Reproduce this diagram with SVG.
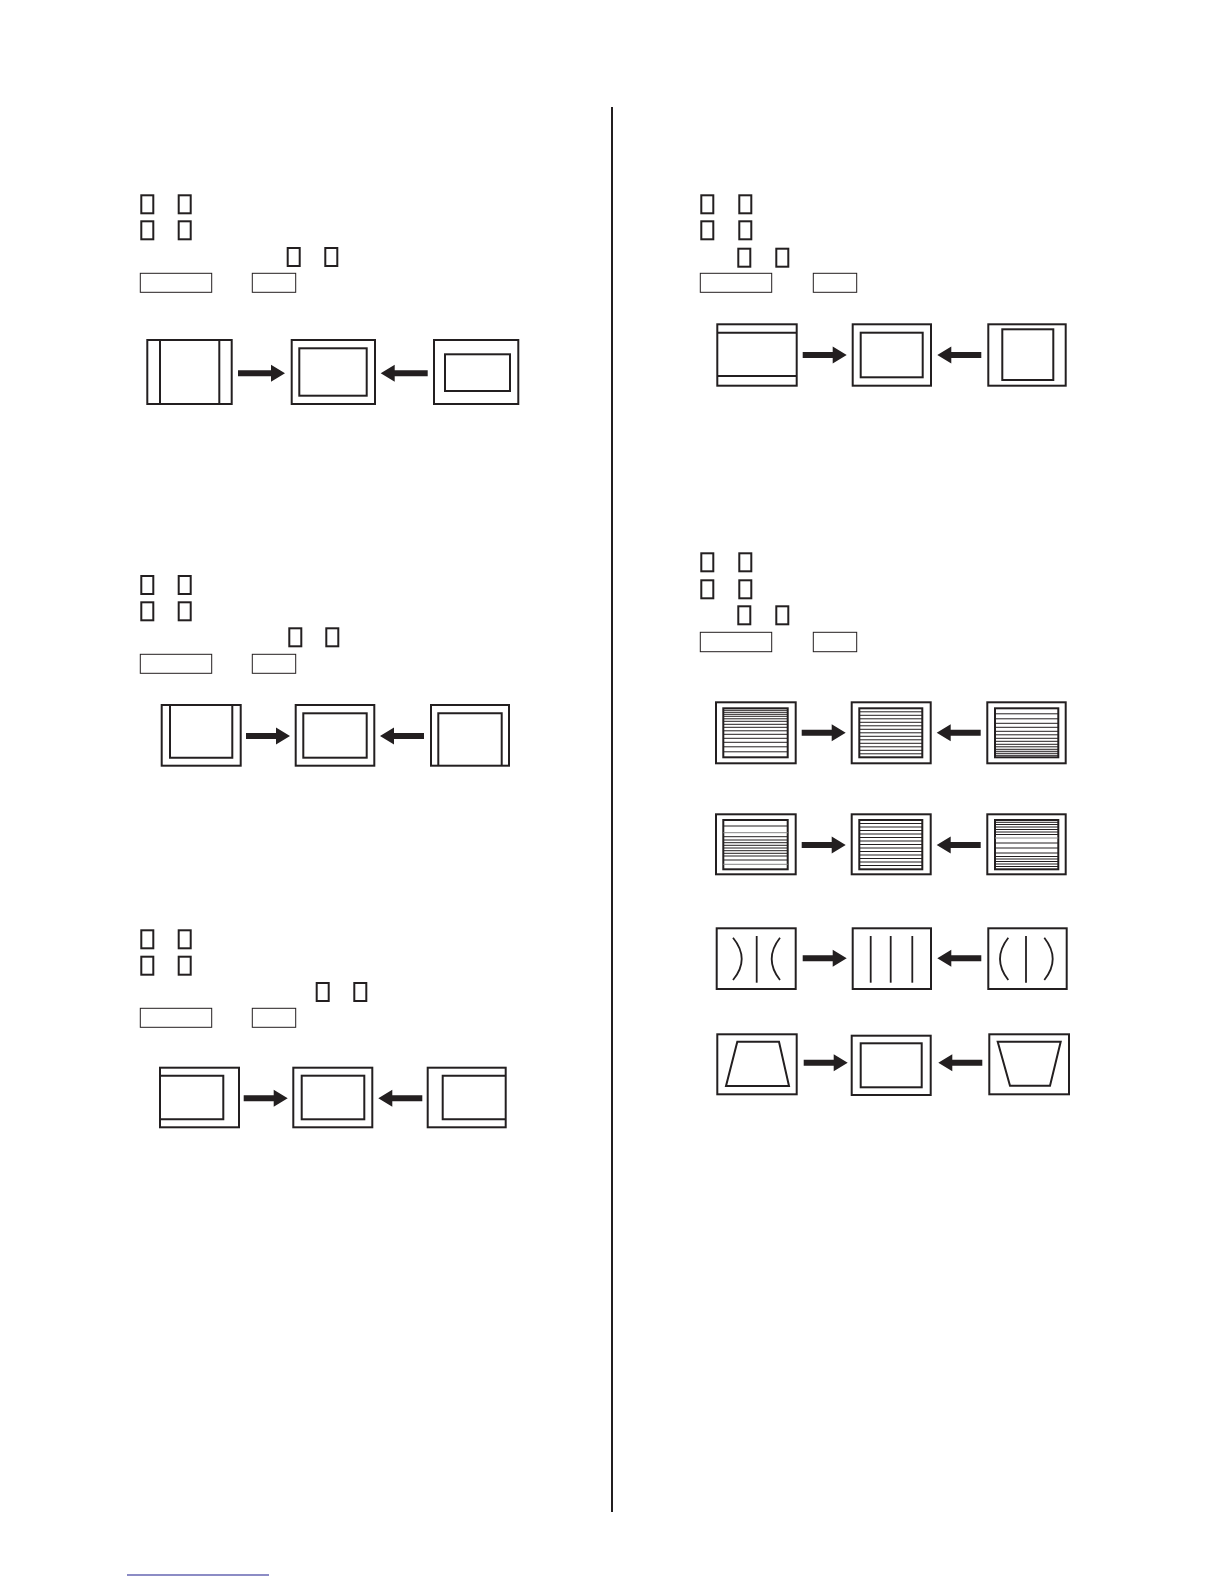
<svg xmlns="http://www.w3.org/2000/svg" xmlns:xlink="http://www.w3.org/1999/xlink" width="1224" height="1584" viewBox="0 0 1224 1584">
<style>
.bx{fill:#fff;stroke:#231f20;stroke-width:2}
.in{fill:none;stroke:#231f20;stroke-width:2}
.ln{fill:none;stroke:#231f20;stroke-width:1}
.lg{fill:none;stroke:#888;stroke-width:1}
.tf{fill:none;stroke:#231f20;stroke-width:2}
.lb{fill:none;stroke:#231f20;stroke-width:1}
.ar{fill:#231f20}
.cv{fill:none;stroke:#231f20;stroke-width:1.8}
</style>
<defs>
<path id="a44" d="M-44,-3 L-14,-3 L-14,-8.5 L0,0 L-14,8.5 L-14,3 L-44,3 Z"/>
<path id="a47" d="M-47,-3 L-14,-3 L-14,-8.5 L0,0 L-14,8.5 L-14,3 L-47,3 Z"/>
</defs>
<rect width="1224" height="1584" fill="#fff"/>
<line x1="612" y1="107" x2="612" y2="1512" stroke="#231f20" stroke-width="2"/>
<line x1="127" y1="1575" x2="269" y2="1575" stroke="#1a1a8c" stroke-width="1.2"/>

<g id="labels-s1">
<rect class="tf" x="141.3" y="195.3" width="12" height="18"/><rect class="tf" x="178.7" y="195.3" width="12" height="18"/>
<rect class="tf" x="141.3" y="221.3" width="12" height="18"/><rect class="tf" x="178.7" y="221.3" width="12" height="18"/>
<rect class="tf" x="287.7" y="248" width="12" height="18"/><rect class="tf" x="325.3" y="248" width="12" height="18"/>
<rect class="lb" x="140.3" y="273.3" width="71.4" height="19"/><rect class="lb" x="252.3" y="273.3" width="43.4" height="19"/>
</g>
<g id="labels-s2">
<rect class="tf" x="141.3" y="576" width="12" height="18"/><rect class="tf" x="178.7" y="576" width="12" height="18"/>
<rect class="tf" x="141.3" y="602.3" width="12" height="18"/><rect class="tf" x="178.7" y="602.3" width="12" height="18"/>
<rect class="tf" x="289.3" y="628.3" width="12" height="18"/><rect class="tf" x="326.3" y="628.3" width="12" height="18"/>
<rect class="lb" x="140.3" y="654.3" width="71.4" height="19"/><rect class="lb" x="252.3" y="654.3" width="43.4" height="19"/>
</g>
<g id="labels-s3">
<rect class="tf" x="141.3" y="930.3" width="12" height="18"/><rect class="tf" x="178.7" y="930.3" width="12" height="18"/>
<rect class="tf" x="141.3" y="956.7" width="12" height="18"/><rect class="tf" x="178.7" y="956.7" width="12" height="18"/>
<rect class="tf" x="316.7" y="983" width="12" height="18"/><rect class="tf" x="354.3" y="983" width="12" height="18"/>
<rect class="lb" x="140.3" y="1008.3" width="71.4" height="19"/><rect class="lb" x="252.3" y="1008.3" width="43.4" height="19"/>
</g>
<g id="labels-s4">
<rect class="tf" x="701.3" y="195.3" width="12" height="18"/><rect class="tf" x="739.3" y="195.3" width="12" height="18"/>
<rect class="tf" x="701.3" y="221.3" width="12" height="18"/><rect class="tf" x="739.3" y="221.3" width="12" height="18"/>
<rect class="tf" x="738.3" y="248.7" width="12" height="18"/><rect class="tf" x="776.3" y="248.7" width="12" height="18"/>
<rect class="lb" x="700.3" y="273.3" width="71.4" height="19"/><rect class="lb" x="813.3" y="273.3" width="43.4" height="19"/>
</g>
<g id="labels-s5">
<rect class="tf" x="701.3" y="553.3" width="12" height="18"/><rect class="tf" x="739.3" y="553.3" width="12" height="18"/>
<rect class="tf" x="701.3" y="580.3" width="12" height="18"/><rect class="tf" x="739.3" y="580.3" width="12" height="18"/>
<rect class="tf" x="738.3" y="606.3" width="12" height="18"/><rect class="tf" x="776.3" y="606.3" width="12" height="18"/>
<rect class="lb" x="700.3" y="632.3" width="71.4" height="19.4"/><rect class="lb" x="813.3" y="632.3" width="43.4" height="19.4"/>
</g>

<!-- Section 1 -->
<g id="s1-a"><rect class="bx" x="147.3" y="340" width="84.4" height="64"/><line class="in" x1="160" y1="340" x2="160" y2="404"/><line class="in" x1="219.3" y1="340" x2="219.3" y2="404"/></g>
<g id="s1-b"><rect class="bx" x="291.7" y="340" width="83.3" height="64"/><rect class="in" x="299.3" y="348.3" width="67.4" height="47.4"/></g>
<g id="s1-c"><rect class="bx" x="434" y="340" width="84.3" height="64"/><rect class="in" x="445" y="354.3" width="65" height="36.7"/></g>

<!-- Section 2 -->
<g id="s2-a"><rect class="bx" x="161.7" y="705" width="79" height="60.7"/><polyline class="in" points="170,705 170,757.7 232.3,757.7 232.3,705"/></g>
<g id="s2-b"><rect class="bx" x="295.7" y="705" width="78.6" height="60.7"/><rect class="in" x="303.3" y="713.3" width="63.4" height="44.4"/></g>
<g id="s2-c"><rect class="bx" x="431" y="705" width="78" height="60.7"/><polyline class="in" points="438.3,765.7 438.3,713.3 501.7,713.3 501.7,765.7"/></g>

<!-- Section 3 -->
<g id="s3-a"><rect class="bx" x="160" y="1067.7" width="79" height="59.6"/><polyline class="in" points="160,1075.7 223.3,1075.7 223.3,1119.3 160,1119.3"/></g>
<g id="s3-b"><rect class="bx" x="293.3" y="1067.7" width="79" height="59.6"/><rect class="in" x="301.7" y="1075.7" width="62.6" height="43.6"/></g>
<g id="s3-c"><rect class="bx" x="427.7" y="1067.7" width="78" height="59.6"/><polyline class="in" points="505.7,1075.7 442.7,1075.7 442.7,1119.3 505.7,1119.3"/></g>

<!-- Section 4 -->
<g id="s4-a"><rect class="bx" x="717.3" y="324.3" width="79.4" height="61.4"/><line class="in" x1="717.3" y1="332.7" x2="796.7" y2="332.7"/><line class="in" x1="717.3" y1="376" x2="796.7" y2="376"/></g>
<g id="s4-b"><rect class="bx" x="852.7" y="324.3" width="78.3" height="61.4"/><rect class="in" x="860.7" y="332.7" width="62" height="44.6"/></g>
<g id="s4-c"><rect class="bx" x="988.3" y="324.3" width="77.4" height="61.4" stroke-width="1.5"/><rect class="in" x="1002.3" y="329.3" width="51" height="50.7"/></g>

<!-- Section 5 row 1 -->
<g id="s5r1-a"><rect class="bx" x="716" y="702.3" width="79.7" height="61"/><rect class="in" x="723.3" y="708.3" width="64.4" height="49"/>
<path class="ln" d="M723.3,710.3H787.7M723.3,712.3H787.7M723.3,714.3H787.7M723.3,716.3H787.7M723.3,718.8H787.7M723.3,721.3H787.7M723.3,724.3H787.7M723.3,727.3H787.7M723.3,730.8H787.7M723.3,734.3H787.7M723.3,738.3H787.7M723.3,742.3H787.7M723.3,746.8H787.7M723.3,751.8H787.7"/></g>
<g id="s5r1-b"><rect class="bx" x="851.7" y="702.3" width="79" height="61"/><rect class="in" x="859.3" y="708.3" width="63" height="49"/>
<path class="ln" d="M859.3,711.8H922.3M859.3,715.3H922.3M859.3,718.8H922.3M859.3,722.3H922.3M859.3,725.8H922.3M859.3,729.3H922.3M859.3,732.8H922.3M859.3,736.3H922.3M859.3,739.8H922.3M859.3,743.3H922.3M859.3,746.8H922.3M859.3,750.3H922.3M859.3,753.8H922.3"/></g>
<g id="s5r1-c"><rect class="bx" x="987.3" y="702.3" width="78.4" height="61"/><rect class="in" x="995" y="708.3" width="63.3" height="49"/>
<path class="ln" d="M995,755.3H1058.3M995,753.3H1058.3M995,751.3H1058.3M995,749.3H1058.3M995,746.8H1058.3M995,744.3H1058.3M995,741.3H1058.3M995,738.3H1058.3M995,734.8H1058.3M995,731.3H1058.3M995,727.3H1058.3M995,723.3H1058.3M995,718.8H1058.3M995,713.8H1058.3"/></g>

<!-- Section 5 row 2 -->
<g id="s5r2-a"><rect class="bx" x="716" y="814.3" width="79.7" height="60"/><rect class="in" x="723.3" y="820" width="64.4" height="49.3"/>
<path class="ln" d="M723.3,826H787.7M723.3,836.7H787.7M723.3,840H787.7M723.3,842.7H787.7M723.3,845.3H787.7M723.3,848H787.7M723.3,850.7H787.7M723.3,853.3H787.7M723.3,856H787.7M723.3,860H787.7"/>
<path class="lg" d="M723.3,832.7H787.7M723.3,864.3H787.7"/></g>
<g id="s5r2-b"><rect class="bx" x="851.7" y="814.3" width="79" height="60"/><rect class="in" x="859.3" y="820" width="63" height="49.3"/>
<path class="ln" d="M859.3,823.5H922.3M859.3,827H922.3M859.3,830.5H922.3M859.3,834H922.3M859.3,837.5H922.3M859.3,841H922.3M859.3,844.5H922.3M859.3,848H922.3M859.3,851.5H922.3M859.3,855H922.3M859.3,858.5H922.3M859.3,862H922.3M859.3,865.5H922.3"/></g>
<g id="s5r2-c"><rect class="bx" x="987.3" y="814.3" width="78.4" height="60"/><rect class="in" x="995" y="820" width="63.3" height="49.3"/>
<path class="ln" d="M995,822.3H1058.3M995,824.5H1058.3M995,827H1058.3M995,829.5H1058.3M995,832H1058.3M995,834.5H1058.3M995,843H1058.3M995,848H1058.3M995,853H1058.3M995,856.5H1058.3M995,859H1058.3M995,861.5H1058.3M995,864H1058.3M995,866.5H1058.3"/>
<path class="lg" d="M995,838H1058.3"/></g>

<!-- Section 5 row 3 -->
<g id="s5r3-a"><rect class="bx" x="716.7" y="928.3" width="79" height="60.7"/>
<path class="cv" d="M733,937.7Q750.4,959 733,980"/><line class="cv" x1="756.7" y1="936" x2="756.7" y2="982.7"/><path class="cv" d="M780,937.7Q763.4,959 780,980"/></g>
<g id="s5r3-b"><rect class="bx" x="852.7" y="928.3" width="78.3" height="60.7"/>
<line class="cv" x1="870.7" y1="936" x2="870.7" y2="982.7"/><line class="cv" x1="890.7" y1="936" x2="890.7" y2="982.7"/><line class="cv" x1="912.3" y1="936" x2="912.3" y2="982.7"/></g>
<g id="s5r3-c"><rect class="bx" x="988.3" y="928.3" width="78.4" height="60.7"/>
<path class="cv" d="M1008.3,937.7Q991.7,959 1008.3,980"/><line class="cv" x1="1026" y1="936" x2="1026" y2="982.7"/><path class="cv" d="M1044.3,937.7Q1061.1,959 1044.3,980"/></g>

<!-- Section 5 row 4 -->
<g id="s5r4-a"><rect class="bx" x="717.3" y="1034.3" width="79.4" height="60"/><polygon class="in" points="737.3,1041.7 779,1041.7 789,1086 726,1086"/></g>
<g id="s5r4-b"><rect class="bx" x="851.7" y="1035.7" width="79" height="59.3"/><rect class="in" x="860.7" y="1043.3" width="61" height="44"/></g>
<g id="s5r4-c"><rect class="bx" x="989.3" y="1034.3" width="79.7" height="60"/><polygon class="in" points="997.7,1041.7 1060.7,1041.7 1050,1085.7 1010,1085.7"/></g>

<g id="connectors" class="ar">
<use xlink:href="#a47" transform="translate(285,373.3)"/>
<use xlink:href="#a47" transform="translate(380.7,373.3) scale(-1,1)"/>
<use xlink:href="#a44" transform="translate(290,736)"/>
<use xlink:href="#a44" transform="translate(380,736) scale(-1,1)"/>
<use xlink:href="#a44" transform="translate(287.7,1098.3)"/>
<use xlink:href="#a44" transform="translate(378.3,1098.3) scale(-1,1)"/>
<use xlink:href="#a44" transform="translate(846.7,355)"/>
<use xlink:href="#a44" transform="translate(937.3,355) scale(-1,1)"/>
<use xlink:href="#a44" transform="translate(845.7,732.7)"/>
<use xlink:href="#a44" transform="translate(936.7,732.7) scale(-1,1)"/>
<use xlink:href="#a44" transform="translate(845.7,845)"/>
<use xlink:href="#a44" transform="translate(936.7,845) scale(-1,1)"/>
<use xlink:href="#a44" transform="translate(846.7,958.3)"/>
<use xlink:href="#a44" transform="translate(937.3,958.3) scale(-1,1)"/>
<use xlink:href="#a44" transform="translate(847.7,1062.7)"/>
<use xlink:href="#a44" transform="translate(938.3,1062.7) scale(-1,1)"/>
</g>
</svg>
